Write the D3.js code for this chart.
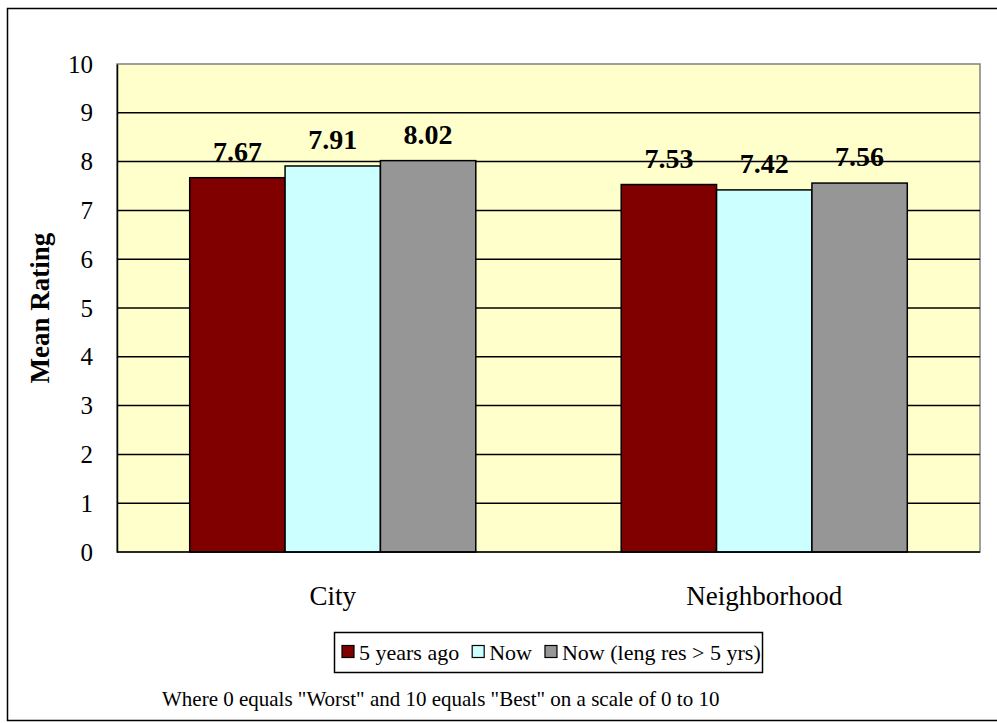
<!DOCTYPE html>
<html>
<head>
<meta charset="utf-8">
<script src="https://cdn.jsdelivr.net/npm/d3@7"></script>
<style>
  html, body { margin: 0; padding: 0; background: #fff; }
  svg { display: block; }
</style>
</head>
<body>
<svg id="chart" width="997" height="723"></svg>
<script>
// Mean ratings by place and respondent group
const categories = ["City", "Neighborhood"];
const seriesNames = ["5 years ago", "Now", "Now (leng res > 5 yrs)"];
const fiveYearsAgo = [7.67, 7.53];
const now = [7.91, 7.42];
const nowLongRes = [8.02, 7.56];
const yTicks = [0, 1, 2, 3, 4, 5, 6, 7, 8, 9, 10];
const seriesColors = ["#800000", "#CCFFFF", "#969696"];
const footnote = "Where 0 equals \"Worst\" and 10 equals \"Best\" on a scale of 0 to 10";

const seriesValues = [fiveYearsAgo, now, nowLongRes];
const SERIF = "'Liberation Serif', 'Times New Roman', serif";

const svg = d3.select("#chart");

// outer frame
svg.append("rect")
  .attr("x", 7.5).attr("y", 8.5)
  .attr("width", 1000).attr("height", 712)
  .attr("fill", "#fff").attr("stroke", "#000").attr("stroke-width", 1.5);

const plot = { left: 117, top: 64, right: 980, bottom: 552 };

const y = d3.scaleLinear().domain([0, 10]).range([plot.bottom, plot.top]);
const x0 = d3.scaleBand().domain(categories).range([plot.left, plot.right]).padding(0);
const groupFrac = 0.663;
const x1 = d3.scaleBand().domain(seriesNames)
  .range([x0.bandwidth() * (1 - groupFrac) / 2, x0.bandwidth() * (1 + groupFrac) / 2])
  .padding(0);

// plot background
svg.append("rect")
  .attr("x", plot.left).attr("y", plot.top)
  .attr("width", plot.right - plot.left).attr("height", plot.bottom - plot.top)
  .attr("fill", "#FFFFCC").attr("stroke", "#808080").attr("stroke-width", 1.5);

// gridlines
svg.append("g").selectAll("line")
  .data(yTicks.filter(d => d > 0 && d < 10))
  .join("line")
  .attr("x1", plot.left).attr("x2", plot.right)
  .attr("y1", d => y(d)).attr("y2", d => y(d))
  .attr("stroke", "#000").attr("stroke-width", 1.5);

// y axis
const yAxis = svg.append("g")
  .attr("transform", `translate(${plot.left},0)`)
  .call(d3.axisLeft(y).tickValues(yTicks).tickSize(0).tickPadding(24));
yAxis.select(".domain").attr("stroke", "#000").attr("stroke-width", 1.5);
yAxis.selectAll("text")
  .style("font-family", SERIF)
  .style("font-size", "25px")
  .attr("fill", "#000");

// bars
const groups = svg.append("g").selectAll("g")
  .data(categories)
  .join("g")
  .attr("transform", d => `translate(${x0(d)},0)`);

groups.selectAll("rect")
  .data((c, ci) => seriesNames.map((s, si) => ({ s, v: seriesValues[si][ci], color: seriesColors[si] })))
  .join("rect")
  .attr("x", d => x1(d.s))
  .attr("y", d => y(d.v))
  .attr("width", x1.bandwidth())
  .attr("height", d => y(0) - y(d.v))
  .attr("fill", d => d.color)
  .attr("stroke", "#000").attr("stroke-width", 1.5);

groups.selectAll("text.val")
  .data((c, ci) => seriesNames.map((s, si) => ({ s, v: seriesValues[si][ci] })))
  .join("text")
  .attr("class", "val")
  .attr("x", d => x1(d.s) + x1.bandwidth() / 2)
  .attr("y", d => y(d.v) - 17)
  .attr("text-anchor", "middle")
  .style("font-family", SERIF)
  .style("font-size", "28px")
  .style("font-weight", "bold")
  .text(d => d.v.toFixed(2));

// bottom axis line
svg.append("line")
  .attr("x1", plot.left).attr("x2", plot.right)
  .attr("y1", plot.bottom).attr("y2", plot.bottom)
  .attr("stroke", "#000").attr("stroke-width", 1.5);

// category labels
svg.append("g").selectAll("text")
  .data(categories)
  .join("text")
  .attr("x", d => x0(d) + x0.bandwidth() / 2)
  .attr("y", 605)
  .attr("text-anchor", "middle")
  .style("font-family", SERIF)
  .style("font-size", "27px")
  .text(d => d);

// y axis title
svg.append("text")
  .attr("transform", `translate(49,${(plot.top + plot.bottom) / 2}) rotate(-90)`)
  .attr("text-anchor", "middle")
  .style("font-family", SERIF)
  .style("font-size", "27px")
  .style("font-weight", "bold")
  .text("Mean Rating");

// legend: box with swatches laid out one after another
const legend = svg.append("g");
legend.append("rect")
  .attr("x", 334.5).attr("y", 632.5).attr("width", 428).attr("height", 40)
  .attr("fill", "#fff").attr("stroke", "#000").attr("stroke-width", 1.5);

let cursor = 342;
seriesNames.forEach((name, i) => {
  const item = legend.append("g").attr("transform", `translate(${cursor},652)`);
  item.append("rect")
    .attr("x", 0).attr("y", -6.5).attr("width", 12).attr("height", 12)
    .attr("fill", seriesColors[i]).attr("stroke", "#000").attr("stroke-width", 1.2);
  const t = item.append("text")
    .attr("x", 17).attr("y", 7.5)
    .style("font-family", SERIF)
    .style("font-size", "22px")
    .text(name);
  cursor += 17 + t.node().getComputedTextLength() + 13;
});

// footnote
svg.append("text")
  .attr("x", 162).attr("y", 706)
  .style("font-family", SERIF)
  .style("font-size", "21px")
  .text(footnote);
</script>
</body>
</html>
